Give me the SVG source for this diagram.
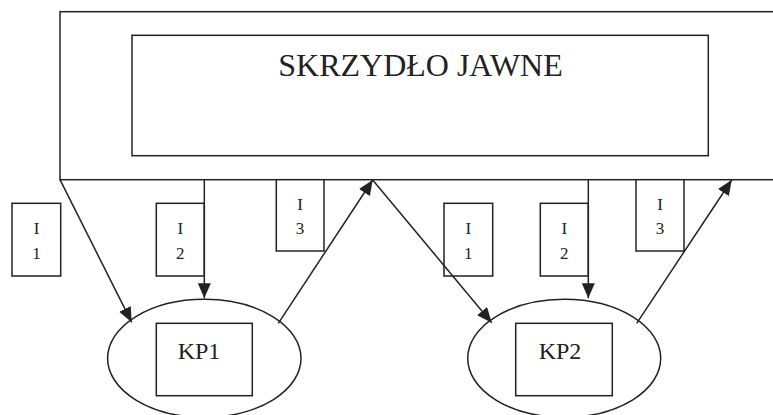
<svg xmlns="http://www.w3.org/2000/svg" width="773" height="415" viewBox="0 0 773 415">
<style>
.b{fill:#fff;stroke:#222;stroke-width:1.5}
.t{font-family:"Liberation Serif","Times New Roman",serif;fill:#222;text-anchor:middle}
.c{fill:none;stroke:#222;stroke-width:1.5}
</style>
<defs>
<marker id="ah" markerUnits="userSpaceOnUse" markerWidth="16" markerHeight="14" refX="15" refY="6.5" orient="auto">
<path d="M0,0 L15,6.5 L0,13 Z" fill="#222"/>
</marker>
</defs>
<g id="outer">
<rect class="b" x="60" y="11.7" width="730" height="168"/>
</g>
<g id="skrzydlo">
<rect class="b" x="132" y="35.3" width="576.3" height="120.4"/>
<text class="t" x="420.5" y="76" font-size="32">SKRZYDŁO JAWNE</text>
</g>
<g id="kp1">
<ellipse class="b" cx="204.3" cy="358.3" rx="96.7" ry="59"/>
<rect class="b" x="156.3" y="323.3" width="96" height="72.4"/>
<text class="t" x="199" y="359" font-size="24">KP1</text>
</g>
<g id="kp2">
<ellipse class="b" cx="564.2" cy="358.3" rx="96.5" ry="59"/>
<rect class="b" x="515.7" y="323.3" width="96.6" height="72.4"/>
<text class="t" x="560" y="359" font-size="24">KP2</text>
</g>
<g id="i1a">
<rect class="b" x="12" y="203.3" width="48.7" height="72.7"/>
<text class="t" x="36.5" y="234" font-size="17">I</text>
<text class="t" x="36.5" y="259" font-size="17">1</text>
</g>
<g id="i2a">
<rect class="b" x="156.3" y="203.3" width="48" height="72.7"/>
<text class="t" x="180.3" y="234" font-size="17">I</text>
<text class="t" x="180.3" y="259" font-size="17">2</text>
</g>
<g id="i3a">
<rect class="b" x="276.3" y="179.7" width="47.7" height="71.3"/>
<text class="t" x="300" y="210" font-size="17">I</text>
<text class="t" x="300" y="234" font-size="17">3</text>
</g>
<g id="i1b">
<rect class="b" x="444" y="203.3" width="48.7" height="72.7"/>
<text class="t" x="468.3" y="234" font-size="17">I</text>
<text class="t" x="468.3" y="259" font-size="17">1</text>
</g>
<g id="i2b">
<rect class="b" x="540.3" y="203.3" width="48" height="72.7"/>
<text class="t" x="564.3" y="234" font-size="17">I</text>
<text class="t" x="564.3" y="259" font-size="17">2</text>
</g>
<g id="i3b">
<rect class="b" x="636" y="179.7" width="48" height="71.3"/>
<text class="t" x="660" y="210" font-size="17">I</text>
<text class="t" x="660" y="234" font-size="17">3</text>
</g>
<g id="connectors">
<line class="c" x1="60" y1="179.7" x2="131.7" y2="322.3" marker-end="url(#ah)"/>
<line class="c" x1="204.3" y1="179.7" x2="204.3" y2="298.3" marker-end="url(#ah)"/>
<line class="c" x1="278.3" y1="323.3" x2="372.7" y2="180" marker-end="url(#ah)"/>
<line class="c" x1="372.7" y1="180" x2="491.7" y2="322.7" marker-end="url(#ah)"/>
<line class="c" x1="588.3" y1="179.7" x2="588.3" y2="298.3" marker-end="url(#ah)"/>
<line class="c" x1="636.7" y1="323.3" x2="731.7" y2="180" marker-end="url(#ah)"/>
</g>
</svg>
